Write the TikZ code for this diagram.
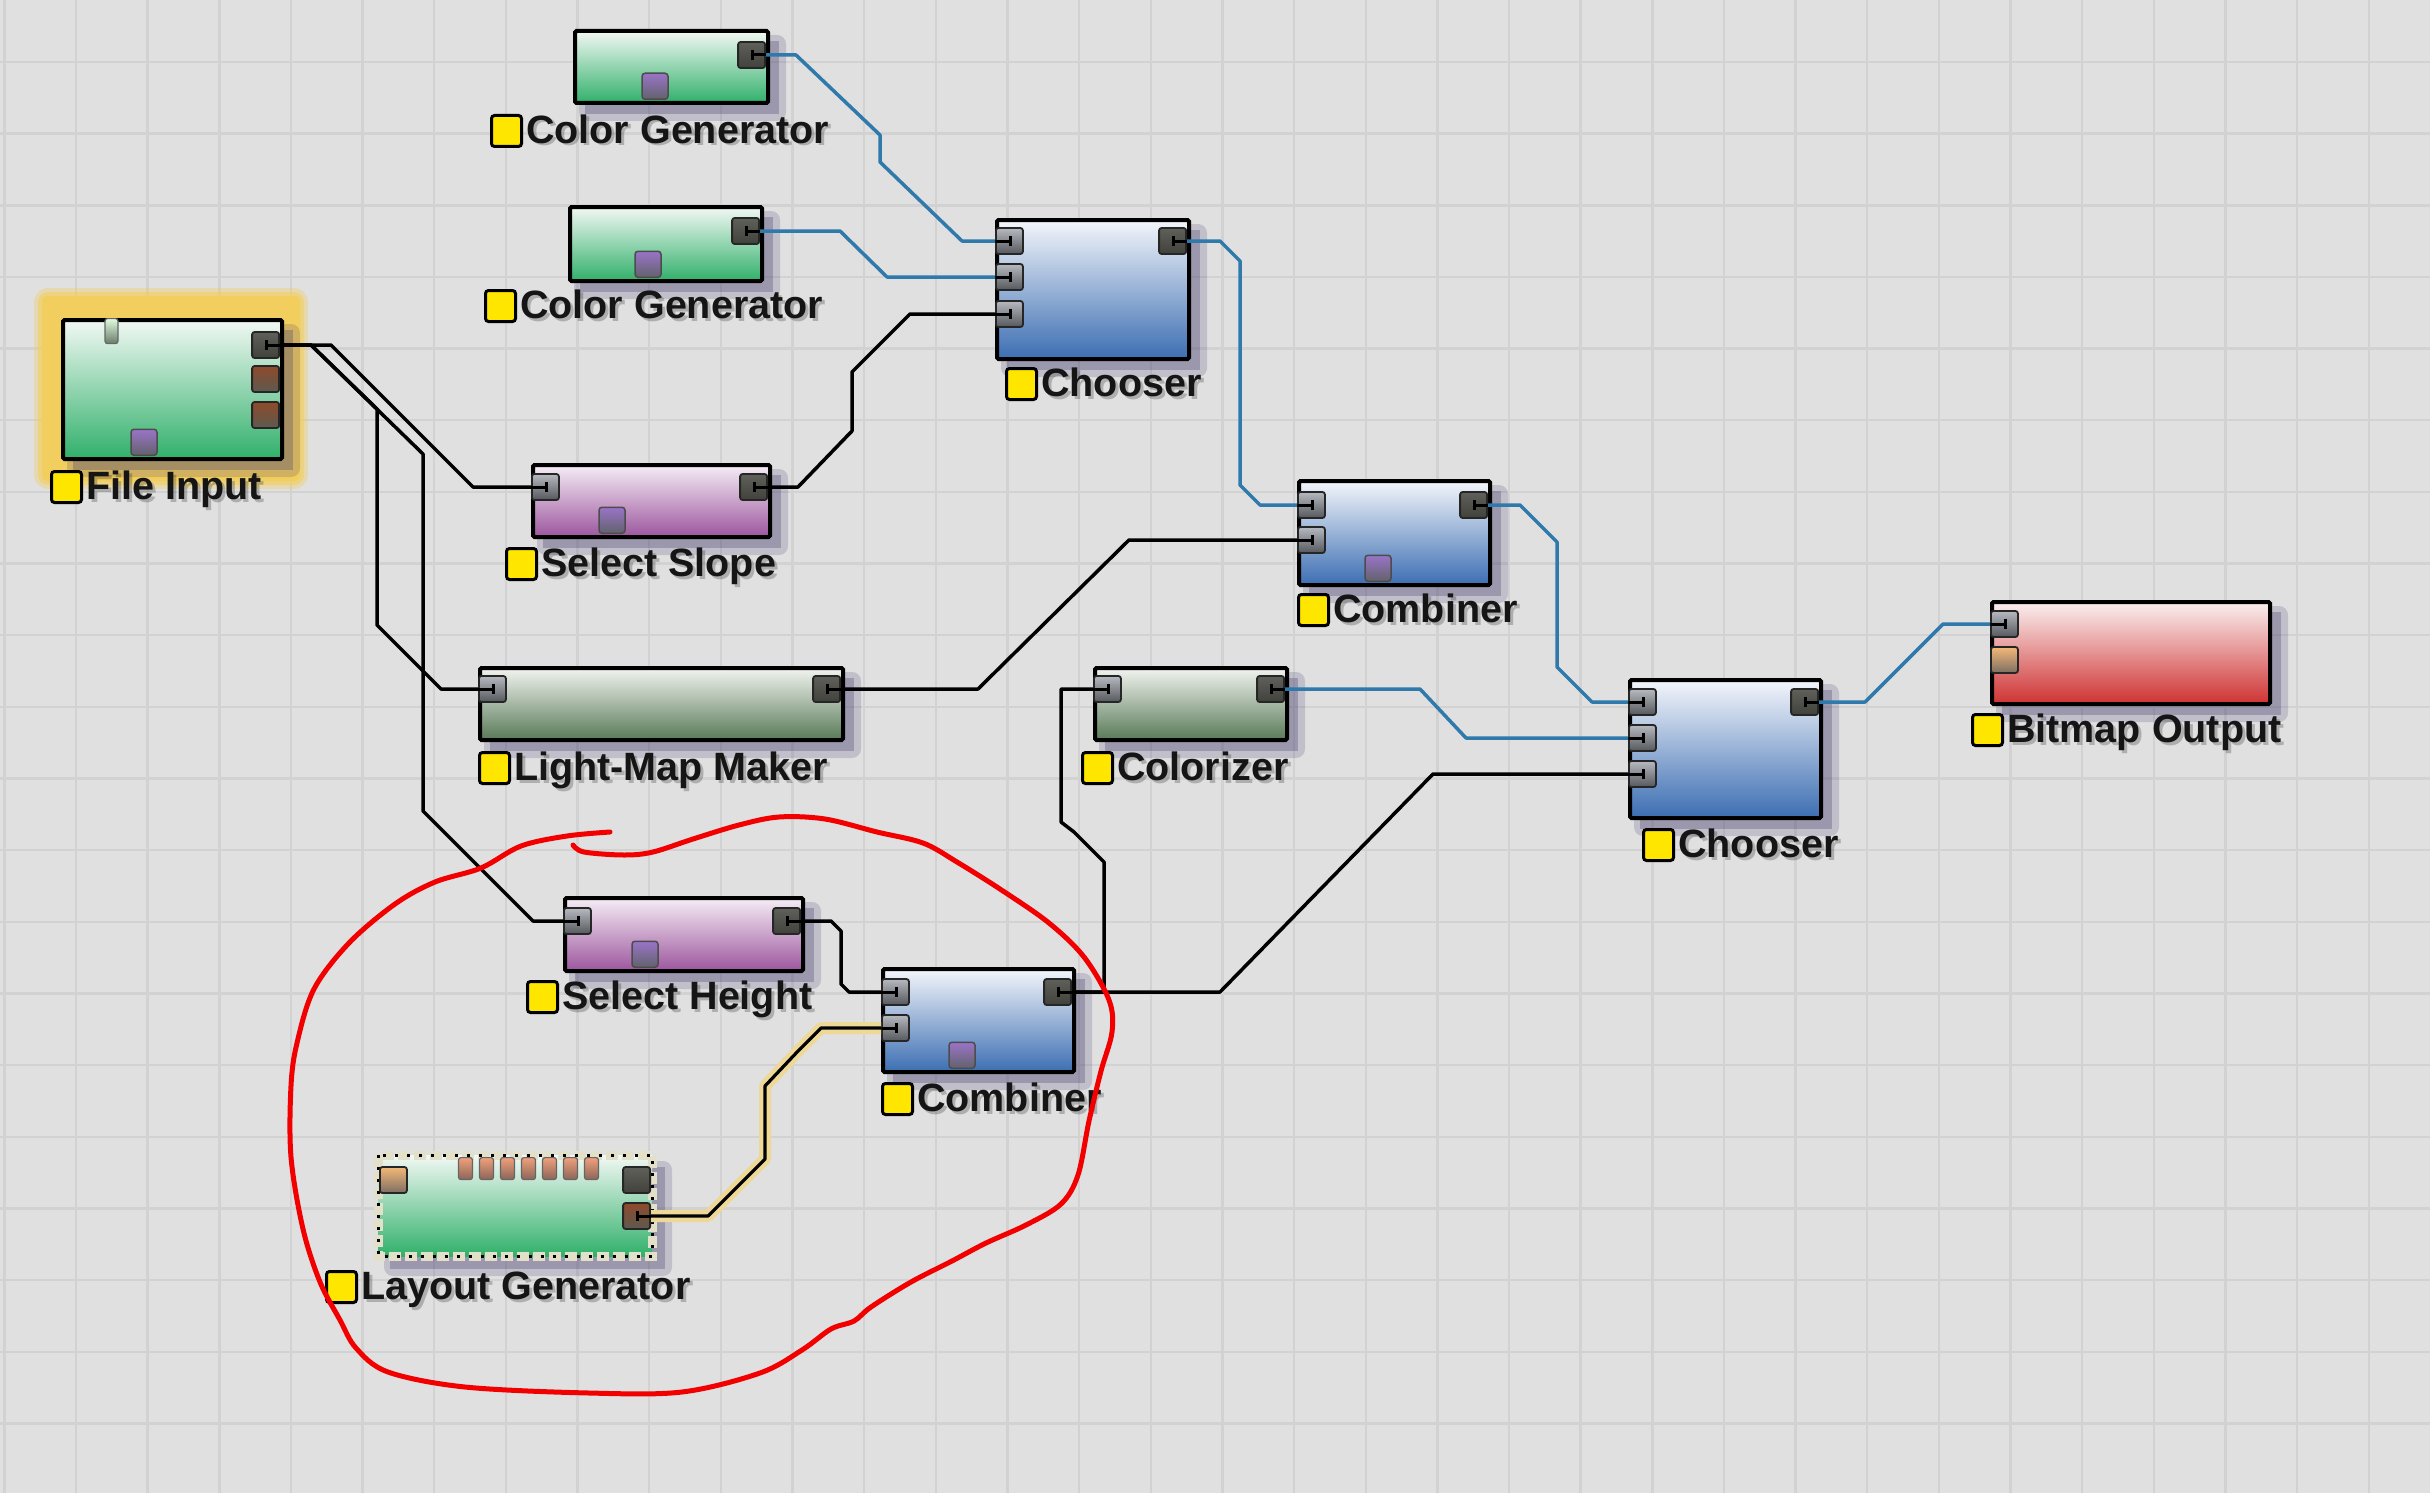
\documentclass[tikz,border=0pt]{standalone}
\usepackage{fontspec}
\setmainfont{Liberation Sans}
\definecolor{bg}{HTML}{E0E0E0}
\definecolor{gridc}{HTML}{D2D2D2}
\definecolor{shc}{HTML}{453F6E}
\definecolor{glowc}{HTML}{F2CE5E}
\definecolor{grT}{HTML}{F2F8F4}\definecolor{grB}{HTML}{30B06A}
\definecolor{blT}{HTML}{F4F6FB}\definecolor{blB}{HTML}{3C6EB2}
\definecolor{puT}{HTML}{F5EDF5}\definecolor{puB}{HTML}{9C569E}
\definecolor{olT}{HTML}{F2F4F0}\definecolor{olB}{HTML}{587A57}
\definecolor{reT}{HTML}{FAF0F0}\definecolor{reB}{HTML}{CF3232}
\definecolor{ipT}{HTML}{B6BAC0}\definecolor{ipB}{HTML}{55585C}
\definecolor{opT}{HTML}{60605A}\definecolor{opB}{HTML}{42423C}
\definecolor{brT}{HTML}{8F4A2A}\definecolor{brB}{HTML}{5C5A50}
\definecolor{orT}{HTML}{F4B878}\definecolor{orB}{HTML}{7C6E62}
\definecolor{tbT}{HTML}{9A74C8}\definecolor{tbB}{HTML}{62626C}
\definecolor{saT}{HTML}{F0A07C}\definecolor{saB}{HTML}{8A6458}
\definecolor{yel}{HTML}{FFE600}
\definecolor{txt}{HTML}{151515}
\definecolor{bluc}{HTML}{2F79AB}
\definecolor{hly}{HTML}{EDD898}
\definecolor{cream}{HTML}{E3E0C9}
\definecolor{redc}{HTML}{F20000}
\tikzset{
 gridl/.style={gridc, line width=2.4pt},
 boxst/.style={draw=black, line width=4pt, inner sep=0pt, anchor=north west, rounded corners=1.5pt},
 portbase/.style={draw=black!85, line width=1.8pt, rounded corners=2.5pt, minimum width=27pt, minimum height=26pt, inner sep=0pt},
 inport/.style={portbase, top color=ipT, bottom color=ipB, anchor=west},
 outport/.style={portbase, top color=opT, bottom color=opB, anchor=east},
 brport/.style={portbase, top color=brT, bottom color=brB, anchor=east},
 orport/.style={portbase, top color=orT, bottom color=orB, anchor=west},
 pmark/.style={black, line width=3pt},
 tabst/.style={draw=black!70, line width=1.5pt, rounded corners=3pt, minimum width=26pt, minimum height=26pt, inner sep=0pt, top color=tbT, bottom color=tbB, anchor=south},
 satab/.style={draw=black!60, line width=1.2pt, rounded corners=2.5pt, minimum width=14pt, minimum height=22pt, inner sep=0pt, top color=saT, bottom color=saB, anchor=north},
 ysq/.style={anchor=north west, minimum width=30pt, minimum height=31pt, fill=yel, draw=black, line width=3pt, rounded corners=3pt, inner sep=0pt},
 ltxt/.style={anchor=base west, inner sep=0pt, text=txt, font=\fontsize{39.5}{44}\selectfont\bfseries},
 lshad/.style={ltxt, text=black, opacity=0.22},
 blk/.style={black, line width=3.5pt, line join=round},
 blu/.style={bluc, line width=3.5pt, line join=round},
 hl/.style={black, line width=3.2pt, line join=round, preaction={draw=hly, line width=12pt, line join=round}},
 redline/.style={redc, line width=5pt, line cap=round, line join=round},
}
\newcommand{\shad}[4]{%
 \fill[shc, opacity=0.2, rounded corners=9pt] ({#1+6},{#2+6}) rectangle ({#3+20},{#4+20});
 \fill[shc, opacity=0.3] ({#1+12},{#2+12}) rectangle ({#3+13},{#4+13});}
\newcommand{\bx}[7]{\shad{#2}{#3}{#4}{#5}%
 \node[boxst, top color=#6, bottom color=#7, minimum width={#4-#2}, minimum height={#5-#3}] (#1) at (#2,#3) {};}
\newcommand{\pin}[3]{\node[inport] (#1) at (#2,#3) {};
 \draw[pmark] (#1.west) -- ([xshift=15pt]#1.west) ([xshift=15pt,yshift=5pt]#1.west) -- ([xshift=15pt,yshift=-5pt]#1.west);}
\newcommand{\pout}[3]{\node[outport] (#1) at (#2,#3) {};
 \draw[pmark] (#1.east) -- ([xshift=-14pt]#1.east) ([xshift=-14pt,yshift=5pt]#1.east) -- ([xshift=-14pt,yshift=-5pt]#1.east);}
\newcommand{\tb}[3]{\node[tabst] (#1) at (#2,{#3-1}) {};}
\newcommand{\lbl}[4]{\node[ysq] (#1sq) at (#2,#3) {};
 \node[lshad] (#1s) at ({#2+39},{#3+32}) {#4};
 \node[ltxt] (#1) at ({#2+36},{#3+29}) {#4};}
\begin{document}
\begin{tikzpicture}[x=1pt,y=-1pt]
\useasboundingbox (0,0) rectangle (2430,1493);
\fill[bg] (0,0) rectangle (2430,1493);
\foreach \i in {-1,...,32} \draw[gridl] ({76+71.65*\i},0) -- ({76+71.65*\i},1493);
\foreach \j in {0,...,19} \draw[gridl] (0,{62+71.65*\j}) -- (2430,{62+71.65*\j});
% selection glow of File Input
\fill[glowc, opacity=0.35, rounded corners=14pt] (34,288) rectangle (308,489);
\fill[glowc, opacity=0.6, rounded corners=10pt] (38,292) rectangle (304,485);
\fill[glowc, rounded corners=6pt] (42,296) rectangle (300,481);
% boxes
\bx{cg1}{573}{29}{766}{101}{grT}{grB}
\bx{cg2}{568}{205}{760}{279}{grT}{grB}
\bx{ch1}{995}{218}{1187}{357}{blT}{blB}
\bx{fi}{61}{318}{280}{457}{grT}{grB}
\bx{ss}{531}{463}{768}{535}{puT}{puB}
\bx{lmm}{478}{666}{841}{738}{olT}{olB}
\bx{col}{1093}{666}{1285}{738}{olT}{olB}
\bx{c1}{1297}{479}{1488}{583}{blT}{blB}
\bx{ch2}{1628}{678}{1819}{816}{blT}{blB}
\bx{bm}{1990}{600}{2268}{702}{reT}{reB}
\bx{sh}{563}{896}{801}{969}{puT}{puB}
\bx{c2}{881}{967}{1072}{1070}{blT}{blB}
% layout generator (selected, dotted frame)
\shad{378}{1155}{652}{1256}
\node[anchor=north west, inner sep=0pt, top color=grT, bottom color=grB, minimum width=274pt, minimum height=101pt] (lg) at (378,1155) {};
\draw[cream, line width=9pt, dash pattern=on 12pt off 4pt] (lg.north west) rectangle (lg.south east);
\draw[black, line width=3pt, dash pattern=on 3pt off 9pt] (lg.north west) rectangle (lg.south east);
\foreach \k in {0,...,6} \node[satab] (lgt\k) at ({465.5+21*\k},1157) {};
% bottom tabs
\tb{cg1t}{655}{101}
\tb{cg2t}{648}{279}
\tb{fit}{144}{457}
\tb{sst}{612}{535}
\tb{c1t}{1378}{583}
\tb{sht}{645}{969}
\tb{c2t}{962}{1070}
\node[draw=black!60, line width=1.2pt, rounded corners=2.5pt, minimum width=13pt, minimum height=25pt, inner sep=0pt, top color=white!60!olT!90!green, bottom color=olB!60!gray, anchor=north] (fitop) at (111.5,318) {};
% ports
\pout{cg1o}{766}{55}
\pout{cg2o}{760}{231}
\pin{ch1i1}{995}{241}\pin{ch1i2}{995}{277}\pin{ch1i3}{995}{314}
\pout{ch1o}{1187}{241}
\pout{fio}{280}{345}
\node[brport] (fib1) at (280,379) {};
\node[brport] (fib2) at (280,415) {};
\pin{ssi}{531}{487}\pout{sso}{768}{487}
\pin{lmmi}{478}{689}\pout{lmmo}{841}{689}
\pin{coli}{1093}{689}\pout{colo}{1285}{689}
\pin{c1i1}{1297}{505}\pin{c1i2}{1297}{540}\pout{c1o}{1488}{505}
\pin{ch2i1}{1628}{702}\pin{ch2i2}{1628}{738}\pin{ch2i3}{1628}{774}\pout{ch2o}{1819}{702}
\pin{bmi}{1990}{624}
\node[orport] (bmo2) at (1990,660) {};
\pin{shi}{563}{921}\pout{sho}{801}{921}
\pin{c2i1}{881}{992}\pin{c2i2}{881}{1028}\pout{c2o}{1072}{992}
\node[orport] (lgi) at (379,1180) {};
\node[outport] (lgd) at (651,1180) {};
\node[brport] (lgo) at (651,1216) {};
\draw[pmark] (lgo.east) -- ([xshift=-14pt]lgo.east) ([xshift=-14pt,yshift=5pt]lgo.east) -- ([xshift=-14pt,yshift=-5pt]lgo.east);
% connectors
\draw[blu] (cg1o.east) -- (796,55) -- (880,135) -- (880,162) -- (962,241) -- (ch1i1.west);
\draw[blu] (cg2o.east) -- (840,231) -- (887,277) -- (ch1i2.west);
\draw[blk] (sso.east) -- (798,487) -- (852,431) -- (852,372) -- (910,314) -- (ch1i3.west);
\draw[blk] (fio.east) -- (331,345) -- (473,487) -- (ssi.west);
\draw[blk] (fio.east) -- (311,345) -- (377,409) -- (377,625) -- (441,689) -- (lmmi.west);
\draw[blk] (fio.east) -- (311,345) -- (423,454) -- (423,811) -- (533,921) -- (shi.west);
\draw[blk] (lmmo.east) -- (978,689) -- (1129,540) -- (c1i2.west);
\draw[blu] (ch1o.east) -- (1220,241) -- (1240,261) -- (1240,485) -- (1260,505) -- (c1i1.west);
\draw[blu] (c1o.east) -- (1520,505) -- (1557,542) -- (1557,667) -- (1592,702) -- (ch2i1.west);
\draw[blu] (colo.east) -- (1420,689) -- (1466,738) -- (ch2i2.west);
\draw[blu] (ch2o.east) -- (1865,702) -- (1943,624) -- (bmi.west);
\draw[blk] (sho.east) -- (831,921) -- (841,931) -- (841,984) -- (849,992) -- (c2i1.west);
\draw[hl] (lgo.east) -- (708,1216) -- (765,1159) -- (765,1086) -- (799,1050) -- (821,1028) -- (c2i2.west);
\draw[blk] (c2o.east) -- (1220,992) -- (1433,774) -- (ch2i3.west);
\draw[blk] (c2o.east) -- (1104,992) -- (1104,862) -- (1074,832) -- (1061,822) -- (1061,689) -- (coli.west);
% labels
\lbl{cg1l}{490}{114}{Color Generator}
\lbl{cg2l}{484}{289}{Color Generator}
\lbl{ch1l}{1005}{367}{Chooser}
\lbl{fil}{50}{470}{File Input}
\lbl{ssl}{505}{547}{Select Slope}
\lbl{lmml}{478}{751}{Light-Map Maker}
\lbl{coll}{1081}{751}{Colorizer}
\lbl{c1l}{1297}{593}{Combiner}
\lbl{ch2l}{1642}{828}{Chooser}
\lbl{bml}{1971}{713}{Bitmap Output}
\lbl{shl}{526}{980}{Select Height}
\lbl{c2l}{881}{1082}{Combiner}
\lbl{lgl}{325}{1270}{Layout Generator}
% hand-drawn red loop
\draw[redline] plot[smooth, tension=0.55] coordinates {(610,832) (567,836) (521,846) (481,868) (435,882) (395,904) (349,943) (314,989) (297,1043) (291,1086) (291,1157) (303,1229) (320,1282) (340,1320) (356,1348) (388,1372) (465,1387) (589,1393) (682,1392) (760,1373) (802,1350) (831,1329) (854,1321) (871,1307) (911,1282) (952,1261) (986,1243) (1026,1225) (1061,1204) (1078,1175) (1089,1121) (1101,1071) (1112,1032) (1109,1000) (1084,957) (1049,923) (1003,891) (957,862) (923,843) (877,832) (825,819) (779,817) (739,825) (693,839) (653,852) (624,855) (584,852) (573,845)};
\end{tikzpicture}
\end{document}
